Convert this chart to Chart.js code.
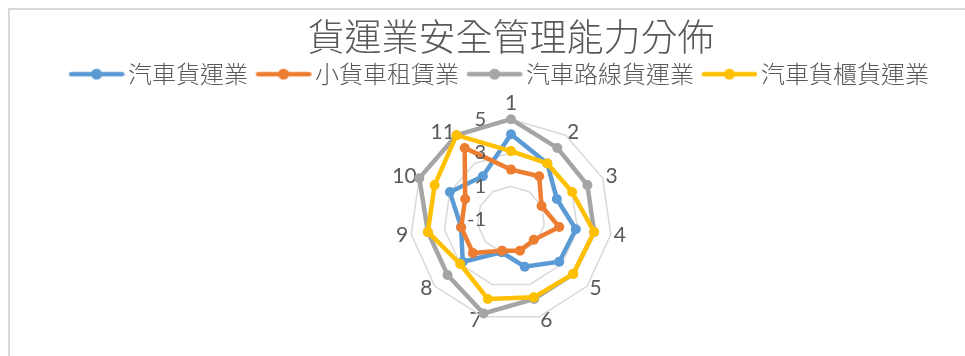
<!DOCTYPE html>
<html>
<head>
<meta charset="utf-8">
<script src="https://cdn.jsdelivr.net/npm/chart.js@4/dist/chart.umd.min.js"></script>
<style>
  html, body { margin: 0; padding: 0; background: #fff; overflow: hidden; width: 965px; height: 356px; }
  #frame { position: absolute; left: 8px; top: 8px; width: 1200px; height: 500px;
           border-top: 2px solid #d9d9d9; border-left: 2px solid #d9d9d9; }
  #radar { position: absolute; left: 8px; top: 0; }
</style>
</head>
<body>
<div id="frame"></div>
<canvas id="radar" width="1000" height="356"></canvas>
<script>
// -------------------------------------------- data
const axisLabels = ['1', '2', '3', '4', '5', '6', '7', '8', '9', '10', '11'];
const seriesNames = ['汽車貨運業', '小貨車租賃業', '汽車路線貨運業', '汽車貨櫃貨運業'];
const truckFreight = [4.1, 3.0, 2.0, 2.9, 2.8, 1.9, 1.0, 2.8, 2.0, 3.0, 2.1];
const smallTruckRental = [2.0, 2.1, 1.0, 1.9, 0.8, 0.9, 0.9, 2.0, 2.0, 2.0, 4.1];
const routeFreight = [5.0, 4.1, 4.0, 4.0, 3.9, 3.9, 4.8, 4.0, 4.0, 5.0, 5.0];
const containerFreight = [3.1, 3.0, 3.0, 4.0, 3.9, 3.8, 3.9, 3.0, 4.0, 4.0, 5.0];
const tickValues = [-1, 1, 3, 5];

const colors = ['#5B9BD5', '#ED7D31', '#A5A5A5', '#FFC000'];
const textColor = '#595959';

// legend marker: short line with a dot in the middle (like Excel)
function legendMarker(color) {
    const c = document.createElement('canvas');
    c.width = 64;
    c.height = 14;
    const g = c.getContext('2d');
    g.strokeStyle = color;
    g.lineWidth = 4.5;
    g.lineCap = 'round';
    g.beginPath();
    g.moveTo(10.5, 7);
    g.lineTo(61.5, 7);
    g.stroke();
    g.fillStyle = color;
    g.beginPath();
    g.arc(36, 7, 5.5, 0, Math.PI * 2);
    g.fill();
    return c;
}
const markers = colors.map(legendMarker);

function makeSet(i, values, order) {
    return {
        label: seriesNames[i],
        data: values,
        borderColor: colors[i],
        backgroundColor: colors[i],
        pointBackgroundColor: colors[i],
        pointBorderColor: colors[i],
        borderWidth: 4.5,
        pointRadius: 5,
        pointBorderWidth: 0,
        fill: false,
        order: order,
    };
}

// value labels sit left of the vertical axis, drawn on top of the lines
const tickLabelPlugin = {
    id: 'tickLabels',
    afterDatasetsDraw(chart) {
        const scale = chart.scales.r;
        const c = chart.ctx;
        c.save();
        c.font = '20px Lato, sans-serif';
        c.fillStyle = textColor;
        c.textAlign = 'right';
        c.textBaseline = 'middle';
        tickValues.forEach((v) => {
            const d = scale.getDistanceFromCenterForValue(v);
            c.fillText(String(v), scale.xCenter - 25, scale.yCenter - d);
        });
        c.restore();
    }
};

const ctx = document.querySelector('#radar').getContext('2d');
const radarChart = new Chart(ctx, {
    type: 'radar',
    data: {
        labels: axisLabels,
        datasets: [
            makeSet(0, truckFreight, 3),
            makeSet(1, smallTruckRental, 2),
            makeSet(2, routeFreight, 1),
            makeSet(3, containerFreight, 0),
        ]
    },
    plugins: [tickLabelPlugin],
    options: {
        responsive: false,
        animation: false,
        layout: {
            padding: { top: 0, bottom: 26, left: 6, right: 0 }
        },
        plugins: {
            title: {
                display: true,
                text: '貨運業安全管理能力分佈',
                color: textColor,
                font: { family: '"Noto Sans CJK TC", sans-serif', size: 37, weight: 300, lineHeight: 0.95 },
                padding: { top: 19, bottom: 0 },
            },
            legend: {
                display: true,
                position: 'top',
                labels: {
                    usePointStyle: true,
                    pointStyleWidth: 47,
                    boxWidth: 47,
                    padding: 8,
                    color: textColor,
                    font: { family: '"Noto Sans CJK TC", sans-serif', size: 24, weight: 300 },
                    generateLabels: function(chart) {
                        const items = Chart.defaults.plugins.legend.labels.generateLabels(chart);
                        items.sort((a, b) => a.datasetIndex - b.datasetIndex);
                        items.forEach((it) => {
                            it.pointStyle = markers[it.datasetIndex];
                            it.fontColor = textColor;
                        });
                        // a little trailing room so the row sits a bit left, as in the original
                        items[items.length - 1].text += '\u3000';
                        return items;
                    }
                }
            },
            tooltip: { enabled: false }
        },
        scales: {
            r: {
                min: tickValues[0],
                max: tickValues[tickValues.length - 1],
                ticks: {
                    stepSize: 2,
                    display: false,
                },
                grid: {
                    color: '#d9d9d9',
                    lineWidth: 1.5,
                },
                angleLines: { display: false },
                pointLabels: {
                    color: textColor,
                    padding: (c) => (c.index === 0 ? 15 : 3),
                    font: { family: 'Lato, sans-serif', size: 21, lineHeight: 0.05 },
                }
            }
        }
    }
});
</script>
</body>
</html>
